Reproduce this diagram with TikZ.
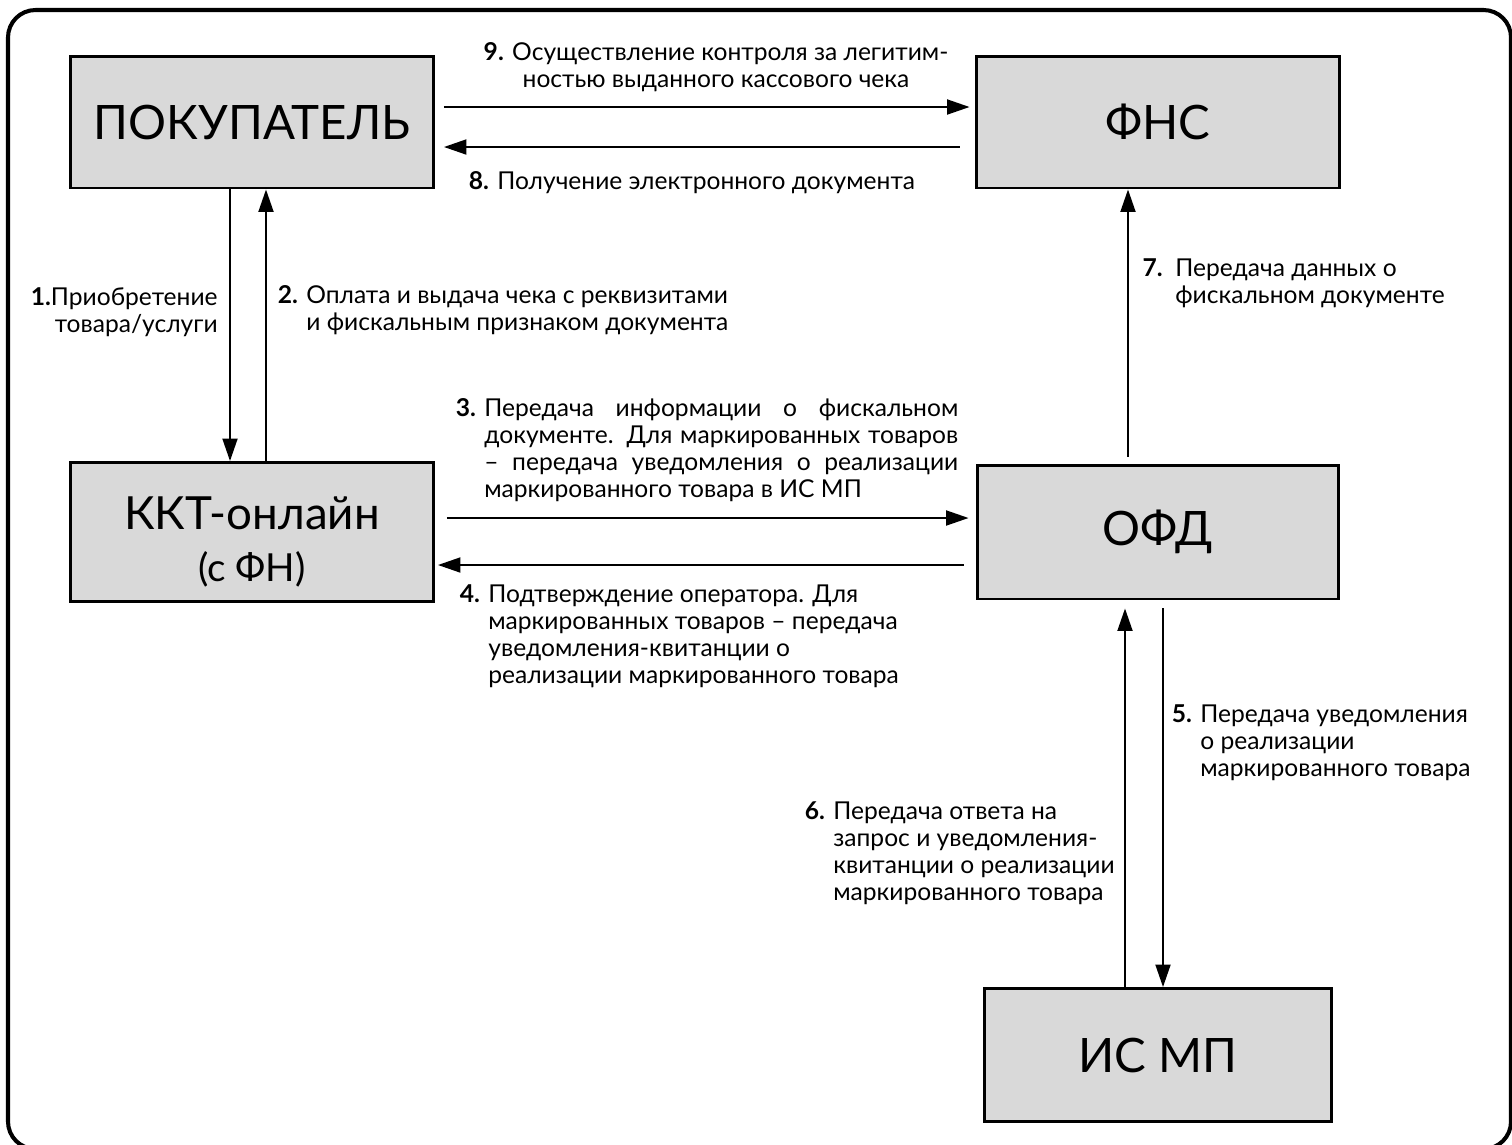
\documentclass[tikz,border=0pt]{standalone}
\usepackage{fontspec}
\setmainfont{Lato}
\usepackage{tikz}
\usetikzlibrary{arrows, arrows.meta, positioning}
\newcommand{\jline}[1]{\makebox[9.48cm][s]{#1}}

\begin{document}
\begin{tikzpicture}[x=0.02cm, y=-0.02cm,
	box/.style={draw, line width=1.7pt, fill=black!15, inner sep=0pt, align=center, font=\fontsize{27}{30}\selectfont},
	lbl/.style={inner sep=0pt, align=left, anchor=north west, font=\fontsize{14}{15.4}\selectfont},
	arr/.style={-{Triangle[length=0.45cm, width=0.3cm]}, line width=1.1pt}]
	\clip (0,0) rectangle (1512,1144);
	\draw[line width=2.3pt, rounded corners=0.55cm] (8,10) rectangle (1511,1149);
	\node[box, minimum width=7.26cm, minimum height=2.64cm] (buyer) at (252,122) {ПОКУПАТЕЛЬ};
	\node[box, minimum width=7.28cm, minimum height=2.64cm] (fns) at (1158,122) {ФНС};
	\node[box, minimum width=7.26cm, minimum height=2.78cm] (kkt) at (252,532) {\fontsize{26}{27}\selectfont\rule{0pt}{30pt}ККТ-онлайн\\\fontsize{22}{27}\selectfont(с ФН)};
	\node[box, minimum width=7.24cm, minimum height=2.68cm] (ofd) at (1158,532) {ОФД};
	\node[box, minimum width=6.94cm, minimum height=2.66cm] (ismp) at (1158,1055) {ИС МП};
	\draw[arr] ([shift={(-22,0)}]buyer.south) -- ([shift={(-22,0)}]kkt.north);
	\draw[arr] ([shift={(14,0)}]kkt.north) -- ([shift={(14,0)}]buyer.south);
	\draw[arr] ([shift={(9,-15)}]buyer.east) -- ([shift={(-5,-15)}]fns.west);
	\draw[arr] ([shift={(-15,25)}]fns.west) -- ([shift={(9,25)}]buyer.east);
	\draw[arr] ([shift={(12,-14)}]kkt.east) -- ([shift={(-7,-14)}]ofd.west);
	\draw[arr] ([shift={(-12,33)}]ofd.west) -- ([shift={(3,33)}]kkt.east);
	\draw[arr] ([shift={(-30,-7)}]ofd.north) -- ([shift={(-30,0)}]fns.south);
	\draw[arr] ([shift={(-33,0)}]ismp.north) -- ([shift={(-33,8)}]ofd.south);
	\draw[arr] ([shift={(5,8)}]ofd.south) -- ([shift={(5,0)}]ismp.north);
	\node[lbl, align=center, anchor=north] (t9) at (716,42) {\textbf{9.} Осуществление контроля за легитим-\\ностью выданного кассового чека};
	\node[lbl] (t8) at (497,171) {\llap{\textbf{8.} }Получение электронного документа};
	\node[lbl, align=right, anchor=north east] (t1) at (218,287) {\textbf{1.}Приобретение\\товара/услуги};
	\node[lbl] (t2) at (306,285) {\llap{\textbf{2.} }Оплата и выдача чека с реквизитами\\и фискальным признаком документа};
	\node[lbl] (t3) at (484,398) {\llap{\textbf{3.} }\jline{Передача информации о фискальном}\\\jline{документе. Для маркированных товаров}\\\jline{– передача уведомления о реализации}\\маркированного товара в ИС МП};
	\node[lbl] (t4) at (488,584) {\llap{\textbf{4.} }Подтверждение оператора. Для\\маркированных товаров – передача\\уведомления-квитанции о\\реализации маркированного товара};
	\node[lbl] (t7) at (1175,258) {\llap{\textbf{7.}\ \ }Передача данных о\\фискальном документе};
	\node[lbl] (t5) at (1200,704) {\llap{\textbf{5.} }Передача уведомления\\о реализации\\маркированного товара};
	\node[lbl] (t6) at (833,801) {\llap{\textbf{6.} }Передача ответа на\\запрос и уведомления-\\квитанции о реализации\\маркированного товара};
\end{tikzpicture}
\end{document}
